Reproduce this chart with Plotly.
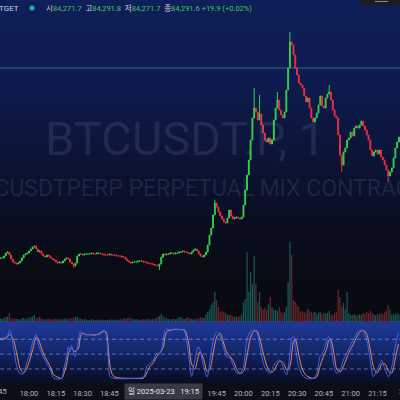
import plotly.graph_objects as go
import pandas as pd
import numpy as np

# ---------------- data ----------------
BASE = "2025-03-23 17:40"          # candle i is BASE + (i+1) minutes
FIRST_OPEN = 84268.0

close = [
    84270, 84262, 84265,
    84267, 84267, 84279, 84297, 84303, 84285, 84261, 84243, 84237, 84231,
    84237, 84249, 84267, 84285, 84291, 84297, 84309, 84321, 84333, 84339,
    84321, 84303, 84309, 84291, 84279, 84273, 84285, 84279, 84267, 84261,
    84255, 84243, 84237, 84243, 84237, 84249, 84261, 84267, 84261, 84243,
    84231, 84219, 84237, 84279, 84291, 84291, 84285, 84291, 84291, 84291,
    84291, 84297, 84291, 84291, 84297, 84297,
    84291, 84291, 84285,
    84285, 84285, 84291, 84285, 84285, 84285, 84279, 84279, 84279, 84273,
    84273, 84261, 84249, 84243, 84237, 84243, 84243, 84243, 84249, 84249,
    84249, 84243, 84243, 84237, 84237, 84231, 84231, 84225, 84225, 84219,
    84231, 84271.7, 84291.6, 84285, 84291, 84291, 84297, 84297, 84291, 84297,
    84297, 84303, 84303, 84309, 84303, 84303, 84297, 84291, 84303, 84315,
    84321, 84309, 84291, 84279, 84273, 84285, 84303, 84345, 84405, 84447,
    84525, 84597, 84573, 84543, 84519, 84501, 84483, 84477, 84507, 84555,
    84519, 84501, 84507,
    84513, 84507, 84501, 84513, 84585, 84675,
    84765, 84855, 84975, 85107, 85167, 85143, 85095, 85131, 85065, 85017,
    84975, 84963, 84987, 84951, 84975, 85095, 85167, 85215, 85155, 85125,
    85107, 85143, 85275, 85407, 85563, 85545, 85485, 85407, 85365, 85317,
    85305, 85287, 85239, 85203, 85227, 85167, 85107, 85083, 85107, 85137,
    85185, 85239, 85179, 85167, 85227, 85251, 85263, 85215, 85155, 85119,
    85107, 85005, 84885, 84825, 84903, 84927, 84975, 84987, 85023, 84999,
    85047, 85059,
    85047, 85065, 85089, 85059, 85035, 85005, 84975, 84915, 84879, 84903,
    84915, 84891, 84915, 84873, 84855, 84825, 84795, 84759, 84783, 84807,
    84867, 84927, 84963, 84993,
]

# visible wicks (minute number -> extreme price); other candles show no wick
high_wick = {124: 84615, 146: 85287, 149: 85245, 159: 85263, 166: 85623, 188: 85305}
low_wick = {45: 84207, 93: 84195, 195: 84783, 221: 84729}

volume = [
    12, 14, 10,
    14, 12, 16, 20, 22, 36, 14, 12, 16, 12,
    12, 10, 14, 16, 12, 14, 18, 20, 22, 28,
    16, 18, 20, 14, 12, 10, 12, 14, 12, 10,
    12, 14, 10, 12, 10, 12, 14, 10, 12, 14,
    16, 18, 20, 22, 14, 12, 10, 12, 10, 8,
    8, 10, 12, 8, 10, 8,
    10, 8, 10,
    8, 10, 8, 12, 10, 8, 10, 8, 12, 10,
    14, 12, 16, 18, 14, 12, 10, 12, 10, 8,
    10, 12, 10, 14, 12, 10, 12, 14, 16, 20,
    24, 32, 22, 18, 14, 12, 10, 12, 14, 10,
    16, 18, 20, 14, 12, 16, 20, 14, 12, 10,
    14, 12, 16, 20, 18, 16, 30, 40, 50, 68,
    80, 120, 88, 60, 40, 44, 40, 36, 30, 28,
    30, 24, 20,
    22, 20, 24, 30, 76, 90,
    280, 120, 200, 150, 264, 152, 80, 120, 60, 50,
    56, 48, 70, 100, 60, 48, 50, 44, 60, 40,
    36, 40, 60, 160, 320, 268, 88, 80, 70, 60,
    40, 44, 40, 36, 52, 44, 40, 36, 40, 30,
    36, 40, 32, 36, 34, 36, 44, 30, 28, 36,
    40, 128, 100, 60, 76, 50, 120, 36, 28, 30,
    30, 28,
    26, 30, 28, 36, 32, 40, 36, 44, 36, 30, 28, 32, 30, 36, 32, 40, 44, 68,
    50, 28, 32, 30, 36, 30,
]

stoch_min = [3.8, 7.3, 9.2, 11.2, 13.2, 15.1, 17.1, 18.6, 20.6, 22.5, 24.0, 25.0,
             27.0, 28.9, 31.9, 33.9, 38.3, 39.3, 41.1, 42.0, 43.0, 43.8, 45.7,
             47.7, 48.7, 49.7, 51.3, 54.1, 57.0, 59.7, 61.6, 63.1, 64.4, 65.4,
             67.4, 78.3, 84.2, 85.9, 87.7, 89.6, 91.5, 93.3, 95.2, 96.1, 97.1,
             100.9, 106.4, 107.3, 109.2, 111.0, 112.8, 114.7, 115.7, 117.7,
             119.7, 121.3, 123.2, 125.1, 127.0, 128.7, 130.5, 132.5, 134.5,
             136.4, 138.1, 140.0, 141.9, 143.7, 145.6, 147.5, 149.2, 151.2,
             153.2, 154.9, 156.7, 158.6, 160.5, 162.4, 164.2, 166.0, 167.0,
             168.0, 169.0, 170.9, 172.9, 175.4, 179.1, 181.0, 182.8, 184.7,
             186.7, 187.7, 188.7, 190.7, 192.2, 194.1, 195.9, 197.8, 199.5,
             201.5, 203.5, 205.4, 207.1, 209.0, 210.9, 212.7, 214.6, 216.5,
             217.3, 219.3, 221.2, 223.0, 224.9, 226.7]
stoch_k = [82, 84, 99, 65, 25, 10, 11, 32, 52, 80, 90, 72,
           52, 38, 18, 1, 1, 18, 45, 65, 55, 68, 45,
           79, 95, 93, 89, 90, 88, 93, 99, 90, 38, 4,
           1, 1, 4, 25, 31, 38, 52, 52, 79, 99, 100,
           99, 99, 93, 52, 5, 38, 65, 58, 25,
           4, 38, 79, 95, 86, 65, 45, 42, 25,
           11, 11, 25, 79, 95, 99, 93, 65, 31,
           15, 11, 25, 35, 38, 21, 8, 52, 82,
           86, 65, 25, 8, 1, 1, 11, 45, 55,
           79, 86, 72, 25, 11, 18, 38, 52, 65,
           79, 93, 99, 95, 79, 38, 4, 18, 31,
           38, 18, 4, 25, 65, 93]
stoch_d = [80, 82, 90, 80, 50, 20, 12, 20, 40, 65, 85, 82,
           62, 45, 25, 8, 1, 8, 30, 50, 60, 62, 55,
           62, 85, 93, 90, 89, 89, 91, 96, 95, 60, 25,
           5, 1, 2, 12, 25, 33, 45, 52, 65, 85, 95,
           100, 99, 98, 75, 30, 20, 45, 55, 40,
           15, 20, 55, 85, 92, 75, 55, 45, 35,
           18, 11, 15, 45, 80, 96, 97, 80, 50,
           25, 14, 15, 28, 36, 32, 18, 25, 50,
           75, 80, 50, 20, 6, 1, 4, 25, 45,
           62, 78, 80, 50, 20, 14, 25, 42, 57,
           70, 85, 96, 98, 90, 60, 25, 12, 22,
           30, 30, 15, 12, 40, 70]

# 17:45 is drawn as a clipped label at the left edge; 19:00 and 19:30 are
# hidden under the crosshair date label in the reference
tick_labels = ["", "18:00", "18:15", "18:30", "18:45", "", "",
               "", "19:45", "20:00", "20:15", "20:30", "20:45", "21:00", "21:15"]
edge_label_left = "17:45"
edge_label_right = "21:30"

header_name = "BITGET"
header_items = [("시", "84,271.7"), ("고", "84,291.8"), ("저", "84,271.7"), ("종", "84,291.6")]
header_change = "+19.9 (+0.02%)"
tooltip_text = "일 2025-03-23   19:15"
marked_level = 85407

# ---------------- derived series ----------------
t0 = pd.Timestamp(BASE)
times = [t0 + pd.Timedelta(minutes=i + 1) for i in range(len(close))]
opens = [FIRST_OPEN] + close[:-1]
highs = [high_wick.get(i + 1, max(o, c)) for i, (o, c) in enumerate(zip(opens, close))]
lows = [low_wick.get(i + 1, min(o, c)) for i, (o, c) in enumerate(zip(opens, close))]
up = [c >= o for o, c in zip(opens, close)]
stoch_t = [t0 + pd.Timedelta(minutes=m) for m in stoch_min]
tickvals = list(pd.date_range("2025-03-23 17:45", "2025-03-23 21:15", freq="15min"))

GREEN = "#35cf4a"
RED = "#ec2f42"
vol_colors = ["rgba(38,166,154,0.5)" if u else "rgba(220,70,70,0.45)" for u in up]

fig = go.Figure()
fig.add_trace(go.Bar(x=times, y=volume, marker=dict(color=vol_colors, line=dict(width=0)),
                     yaxis="y3", xaxis="x", hoverinfo="skip"))
fig.add_trace(go.Candlestick(x=times, open=opens, high=highs, low=lows, close=close,
                             increasing=dict(line=dict(color=GREEN, width=1), fillcolor=GREEN),
                             decreasing=dict(line=dict(color=RED, width=1), fillcolor=RED),
                             whiskerwidth=0, xaxis="x", yaxis="y"))
fig.add_trace(go.Scatter(x=stoch_t, y=stoch_d, mode="lines", yaxis="y2",
                         line=dict(color="#e8895c", width=1, shape="spline", smoothing=0.8)))
fig.add_trace(go.Scatter(x=stoch_t, y=stoch_k, mode="lines", yaxis="y2",
                         line=dict(color="#3d63f2", width=1, shape="spline", smoothing=0.8)))

# ---------------- background gradients ----------------
def grad_shapes(y_top_px, y_bot_px, stops, n):
    shapes = []
    sy = np.array([s[0] for s in stops], float)
    cols = np.array([s[1] for s in stops], float)
    edges = np.linspace(y_top_px, y_bot_px, n + 1)
    for a, b in zip(edges[:-1], edges[1:]):
        mid = (a + b) / 2
        c = [int(round(np.interp(mid, sy, cols[:, k]))) for k in range(3)]
        shapes.append(dict(type="rect", xref="paper", yref="paper", x0=0, x1=1,
                           y0=1 - b / 400 - 0.001, y1=1 - a / 400 + 0.001, layer="below",
                           line=dict(width=0), fillcolor=f"rgb({c[0]},{c[1]},{c[2]})"))
    return shapes

shapes = []
shapes += grad_shapes(0, 322, [(0, (15, 31, 90)), (80, (14, 27, 78)), (150, (12, 21, 58)),
                               (210, (10, 15, 38)), (260, (9, 11, 22)), (322, (9, 10, 17))], 46)
shapes += grad_shapes(322, 382, [(322, (30, 56, 150)), (335, (26, 50, 135)), (350, (20, 40, 110)),
                                 (365, (14, 27, 75)), (382, (9, 14, 35))], 20)
for lvl in (80, 50, 20):
    shapes.append(dict(type="line", xref="paper", yref="y2", x0=0, x1=1, y0=lvl, y1=lvl,
                       line=dict(color="rgba(150,165,215,0.6)", width=1, dash="4px,3px")))
shapes.append(dict(type="line", xref="paper", yref="y", x0=0, x1=1, y0=marked_level, y1=marked_level,
                   line=dict(color="rgba(60,140,150,0.7)", width=1)))
# legend status dot and top-right button
shapes.append(dict(type="circle", xref="paper", yref="paper", x0=29.5 / 400, x1=34.5 / 400,
                   y0=1 - 10.5 / 400, y1=1 - 5.5 / 400, fillcolor="#22b5a0", line=dict(width=0)))
shapes.append(dict(type="rect", xref="paper", yref="paper", x0=360 / 400, x1=1,
                   y0=1 - 6 / 400, y1=1, fillcolor="#1b1d25", line=dict(width=0)))
shapes.append(dict(type="line", xref="paper", yref="paper", x0=375 / 400, x1=388 / 400,
                   y0=1 - 1.5 / 400, y1=1 - 1.5 / 400, line=dict(color="#8a8d96", width=1)))

# ---------------- text ----------------
FONT = "Roboto, 'Noto Sans CJK KR', sans-serif"
head = "  ".join(f"<span style='color:#d1d4dc'>{k}</span>{v}" for k, v in header_items)
head += f" {header_change}"
TICKFONT = dict(family=FONT, size=7.5, color="#b2b5be")
annotations = [
    dict(text="BTCUSDT.P, 1", xref="paper", yref="paper", x=185 / 400, y=1 - 138 / 400,
         yanchor="middle", showarrow=False,
         font=dict(family=FONT, size=47, color="rgba(180,192,225,0.12)")),
    dict(text="BTCUSDTPERP PERPETUAL MIX CONTRACT", xref="paper", yref="paper", x=195 / 400,
         y=1 - 189 / 400, yanchor="middle", showarrow=False,
         font=dict(family=FONT, size=23, color="rgba(180,192,225,0.12)")),
    dict(text=header_name, xref="paper", yref="paper", x=21 / 400, y=1 - 8 / 400, xanchor="right",
         yanchor="middle", showarrow=False, font=dict(family=FONT, size=8, color="#d1d4dc")),
    dict(text=head, xref="paper", yref="paper", x=44 / 400, y=1 - 8 / 400, xanchor="left",
         yanchor="middle", showarrow=False, font=dict(family=FONT, size=7.5, color="#3cc955")),
    dict(text=tooltip_text, xref="paper", yref="paper", x=163.5 / 400, y=1 - 391 / 400,
         yanchor="middle", showarrow=False, bgcolor="#363a45", borderpad=3,
         font=dict(family=FONT, size=7.5, color="#e6e8ee")),
    dict(text=edge_label_right, xref="paper", yref="paper", x=396.5 / 400, y=1 - 391 / 400,
         xanchor="left", yanchor="middle", showarrow=False, font=TICKFONT),
    dict(text=edge_label_left, xref="paper", yref="paper", x=8.5 / 400, y=1 - 391 / 400,
         xanchor="right", yanchor="middle", showarrow=False, font=TICKFONT),
]

fig.update_layout(
    width=400, height=400, margin=dict(l=0, r=0, t=0, b=0),
    paper_bgcolor="#0c0e15", plot_bgcolor="rgba(0,0,0,0)", showlegend=False,
    shapes=shapes, annotations=annotations, bargap=0.3,
    xaxis=dict(type="date", anchor="y2", range=[t0 + pd.Timedelta(minutes=3.77),
                                                t0 + pd.Timedelta(minutes=227.6)],
               showgrid=False, zeroline=False, showline=False, ticks="",
               tickvals=tickvals, ticktext=tick_labels, ticklabelstandoff=5,
               tickfont=TICKFONT, rangeslider=dict(visible=False)),
    yaxis=dict(domain=[0.195, 1], range=[83883, 85815], visible=False),
    yaxis3=dict(domain=[0.195, 1], overlaying="y", range=[0, 1288], visible=False),
    yaxis2=dict(domain=[0.045, 0.195], range=[-6.3, 114.9], visible=False),
)

fig.write_html("out.html", config={"displayModeBar": False},
               post_script="document.body.style.margin='0';document.body.style.overflow='hidden';")
